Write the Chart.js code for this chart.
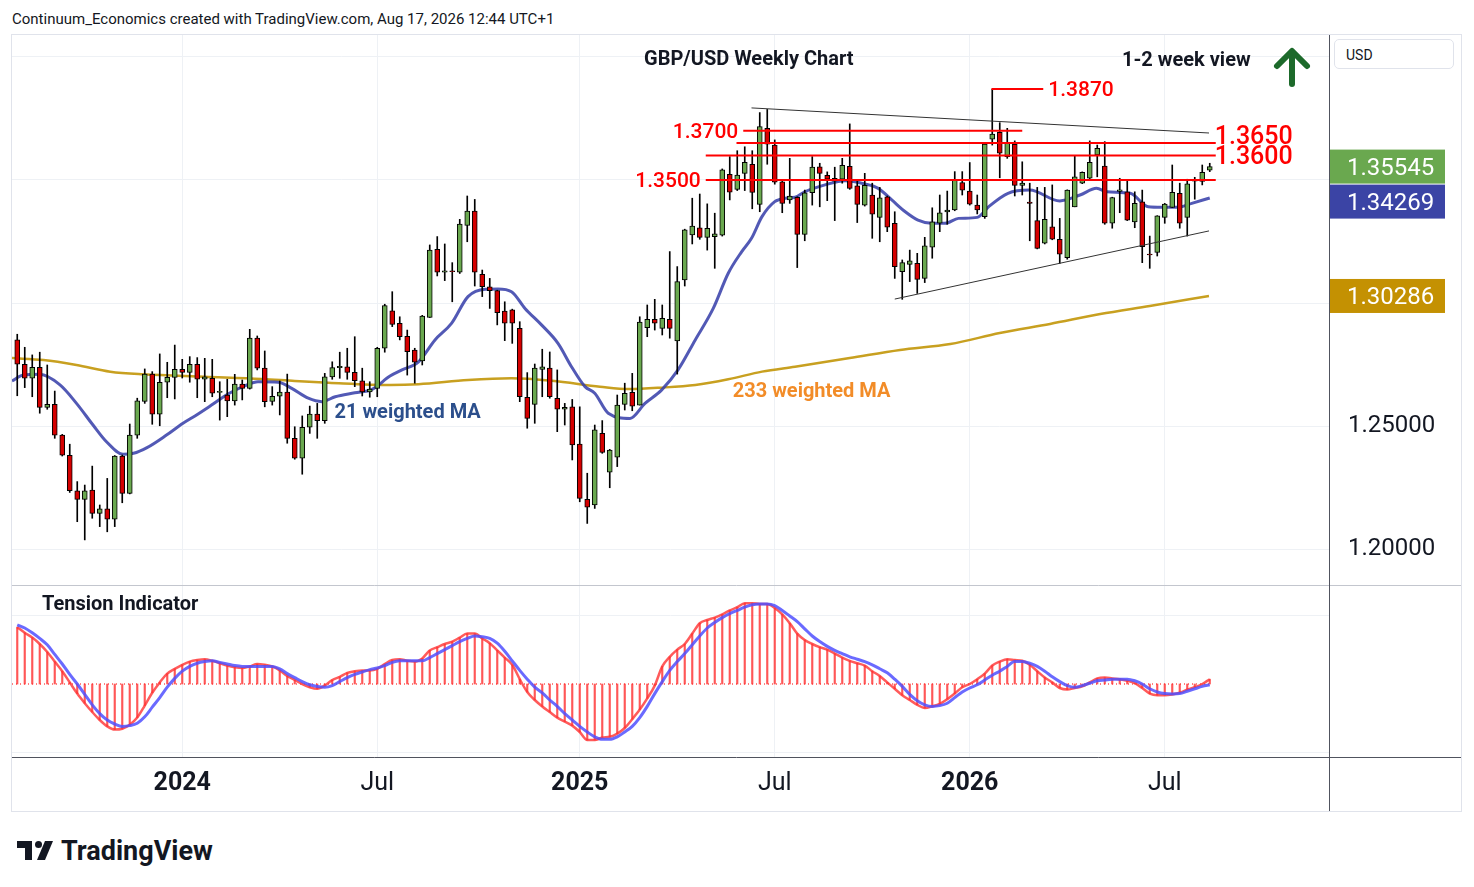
<!DOCTYPE html>
<html lang="en">
<head>
  <meta charset="UTF-8">
  <title>GBP/USD Weekly Chart</title>
  <script src="https://cdn.jsdelivr.net/npm/chart.js@4.4.1/dist/chart.umd.min.js"></script>
  <style>
    body { margin: 0; background: #fff; font-family: Roboto, "Noto Sans", sans-serif; color: #131722; }
    #page { position: relative; width: 1474px; height: 887px; overflow: hidden; }
    #frame { position: absolute; left: 11px; top: 34px; width: 1449px; height: 776px; border: 1px solid #e0e3eb; }
    .t { position: absolute; white-space: nowrap; line-height: 1; transform: translateY(-50%); }
    .hdr { font-size: 15px; color: #131722; }
    .ttl { font-size: 20px; font-weight: bold; color: #131722; }
    #usd { position: absolute; left: 1334px; top: 39px; width: 120px; height: 30px; border: 1px solid #e0e3eb;
           border-radius: 5px; background: #fff; font-size: 14px; line-height: 30px; padding-left: 11px; box-sizing: border-box; }
    #logo { position: absolute; left: 16px; top: 836px; }
  </style>
</head>
<body>
<div id="page">
  <div class="t hdr" style="left:12px; top:19px;">Continuum_Economics created with TradingView.com, Aug 17, 2026 12:44 UTC+1</div>
  <div id="frame"><canvas id="chart" width="1449" height="776"></canvas></div>
  <div class="t ttl" style="left:644px; top:58px;">GBP/USD Weekly Chart</div>
  <div class="t ttl" style="left:1122px; top:59px;">1-2 week view</div>
  <div class="t ttl" style="left:42px; top:603px;">Tension Indicator</div>
  <div id="usd">USD</div>
  <svg style="position:absolute; left:1270px; top:44px;" width="46" height="44">
    <polyline points="22,40 22,8" fill="none" stroke="#1d6a2b" stroke-width="6" stroke-linecap="round"/>
    <polyline points="7,22 22,7 37,22" fill="none" stroke="#1d6a2b" stroke-width="6" stroke-linecap="round" stroke-linejoin="round"/>
  </svg>
  <div id="logo">
    <svg width="210" height="30">
      <rect x="1" y="5" width="15" height="7" fill="#131722"/>
      <rect x="9" y="5" width="7" height="19" fill="#131722"/>
      <circle cx="22.5" cy="8.5" r="3.5" fill="#131722"/>
      <polygon points="29,5 37,5 29,24 21,24" fill="#131722"/>
      <text x="45" y="24" font-family="Roboto, sans-serif" font-weight="bold" font-size="27" fill="#131722">TradingView</text>
    </svg>
  </div>
</div>

<script>
  // weekly candles, first bar = week of 31 Jul 2023 (index 0), last = week of 17 Aug 2026
  const opens = [
    1.2850,1.2751,1.2694,1.2739,1.2576,1.2588,1.2463,1.2381,1.2237,1.2202,
    1.2240,1.2145,1.2163,1.2121,1.2378,1.2226,1.2463,1.2600,1.2711,1.2548,
    1.2678,1.2698,1.2730,1.2718,1.2751,1.2690,1.2694,1.2637,1.2626,1.2602,
    1.2670,1.2653,1.2857,1.2735,1.2600,1.2621,1.2638,1.2450,1.2369,1.2495,
    1.2548,1.2522,1.2700,1.2737,1.2741,1.2718,1.2684,1.2639,1.2653,1.2816,
    1.2968,1.2917,1.2865,1.2809,1.2765,1.2941,1.3218,1.3125,1.3131,1.3125,
    1.3315,1.3374,1.3117,1.3066,1.3050,1.2967,1.2972,1.2897,1.2617,1.2588,
    1.2730,1.2735,1.2613,1.2568,1.2578,1.2427,1.2202,1.2179,1.2470,1.2312,
    1.2373,1.2588,1.2637,1.2585,1.2900,1.2934,1.2897,1.2934,1.2846,1.3094,
    1.3277,1.3306,1.3267,1.3270,1.3276,1.3523,1.3462,1.3527,1.3564,1.3401,
    1.3710,1.3642,1.3493,1.3419,1.3430,1.3279,1.3448,1.3554,1.3519,1.3495,
    1.3503,1.3556,1.3476,1.3398,1.3439,1.3348,1.3432,1.3324,1.3127,1.3157,
    1.3161,1.3100,1.3227,1.3324,1.3370,1.3378,1.3489,1.3455,1.3398,1.3351,
    1.3666,1.3694,1.3595,1.3645,1.3478,1.3410,1.3335,1.3243,1.3310,1.3259,
    1.3184,1.3391,1.3487,1.3507,1.3602,1.3557,1.3324,1.3454,1.3452,1.3330,
    1.3411,1.3199,1.3206,1.3348,1.3389,1.3446,1.3348,1.3495,1.3494,1.3540
  ];
  const highs = [
    1.2873,1.2820,1.2789,1.2800,1.2748,1.2642,1.2466,1.2426,1.2274,1.2260,
    1.2337,1.2179,1.2287,1.2380,1.2382,1.2508,1.2613,1.2732,1.2721,1.2793,
    1.2759,1.2829,1.2771,1.2782,1.2778,1.2775,1.2771,1.2680,1.2690,1.2710,
    1.2687,1.2893,1.2866,1.2805,1.2660,1.2683,1.2711,1.2497,1.2541,1.2581,
    1.2592,1.2714,1.2761,1.2800,1.2816,1.2863,1.2735,1.2680,1.2820,1.2995,
    1.3046,1.2944,1.2890,1.2816,1.2950,1.3236,1.3270,1.3240,1.3164,1.3340,
    1.3435,1.3421,1.3134,1.3100,1.3052,1.3005,1.2975,1.2924,1.2717,1.2752,
    1.2812,1.2801,1.2728,1.2592,1.2608,1.2578,1.2308,1.2504,1.2522,1.2405,
    1.2626,1.2674,1.2714,1.2944,1.2992,1.3015,1.2992,1.3209,1.3148,1.3300,
    1.3426,1.3443,1.3403,1.3365,1.3545,1.3595,1.3619,1.3635,1.3619,1.3774,
    1.3787,1.3663,1.3500,1.3588,1.3432,1.3459,1.3595,1.3568,1.3533,1.3552,
    1.3588,1.3728,1.3500,1.3527,1.3487,1.3470,1.3435,1.3371,1.3175,1.3215,
    1.3202,1.3267,1.3387,1.3439,1.3455,1.3534,1.3534,1.3571,1.3439,1.3650,
    1.3869,1.3733,1.3710,1.3659,1.3574,1.3487,1.3470,1.3470,1.3480,1.3344,
    1.3460,1.3598,1.3533,1.3659,1.3642,1.3656,1.3430,1.3507,1.3500,1.3452,
    1.3459,1.3272,1.3355,1.3405,1.3561,1.3487,1.3503,1.3511,1.3561,1.3568
  ];
  const lows = [
    1.2623,1.2656,1.2619,1.2552,1.2568,1.2450,1.2378,1.2230,1.2111,1.2037,
    1.2125,1.2091,1.2070,1.2091,1.2188,1.2224,1.2450,1.2592,1.2507,1.2501,
    1.2615,1.2610,1.2695,1.2678,1.2615,1.2599,1.2619,1.2524,1.2538,1.2585,
    1.2606,1.2650,1.2728,1.2578,1.2585,1.2545,1.2430,1.2365,1.2304,1.2470,
    1.2450,1.2511,1.2690,1.2694,1.2690,1.2660,1.2622,1.2617,1.2619,1.2800,
    1.2904,1.2850,1.2707,1.2674,1.2748,1.2941,1.3110,1.3091,1.3005,1.3120,
    1.3249,1.3069,1.3026,1.2978,1.2911,1.2847,1.2836,1.2599,1.2491,1.2511,
    1.2619,1.2613,1.2477,1.2504,1.2362,1.2192,1.2104,1.2165,1.2389,1.2249,
    1.2335,1.2565,1.2562,1.2585,1.2863,1.2890,1.2870,1.2857,1.2711,1.3069,
    1.3240,1.3259,1.3215,1.3141,1.3272,1.3419,1.3457,1.3457,1.3383,1.3371,
    1.3564,1.3483,1.3367,1.3405,1.3144,1.3253,1.3398,1.3391,1.3416,1.3335,
    1.3487,1.3462,1.3327,1.3394,1.3263,1.3249,1.3290,1.3100,1.3015,1.3087,
    1.3039,1.3083,1.3182,1.3290,1.3320,1.3375,1.3439,1.3398,1.3362,1.3344,
    1.3642,1.3509,1.3588,1.3435,1.3439,1.3253,1.3220,1.3240,1.3257,1.3161,
    1.3178,1.3391,1.3485,1.3505,1.3513,1.3320,1.3304,1.3367,1.3335,1.3306,
    1.3164,1.3141,1.3191,1.3324,1.3388,1.3304,1.3272,1.3422,1.3480,1.3534
  ];
  const closes = [
    1.2751,1.2694,1.2739,1.2576,1.2588,1.2463,1.2381,1.2237,1.2202,1.2237,
    1.2145,1.2163,1.2121,1.2378,1.2226,1.2463,1.2602,1.2711,1.2548,1.2678,
    1.2698,1.2730,1.2718,1.2751,1.2690,1.2700,1.2633,1.2640,1.2602,1.2670,
    1.2653,1.2857,1.2735,1.2599,1.2621,1.2638,1.2450,1.2369,1.2495,1.2548,
    1.2522,1.2700,1.2737,1.2743,1.2718,1.2684,1.2639,1.2650,1.2816,1.2990,
    1.2913,1.2863,1.2802,1.2759,1.2947,1.3215,1.3125,1.3131,1.3127,1.3321,
    1.3374,1.3125,1.3066,1.3050,1.2961,1.2918,1.2918,1.2619,1.2531,1.2735,
    1.2741,1.2619,1.2568,1.2576,1.2423,1.2206,1.2170,1.2484,1.2393,1.2402,
    1.2585,1.2633,1.2581,1.2922,1.2934,1.2918,1.2938,1.2897,1.3087,1.3297,
    1.3313,1.3267,1.3304,1.3281,1.3541,1.3451,1.3520,1.3572,1.3450,1.3717,
    1.3646,1.3491,1.3405,1.3435,1.3279,1.3448,1.3552,1.3527,1.3503,1.3507,
    1.3560,1.3466,1.3401,1.3478,1.3361,1.3428,1.3308,1.3148,1.3164,1.3171,
    1.3096,1.3232,1.3330,1.3367,1.3378,1.3500,1.3459,1.3402,1.3378,1.3646,
    1.3687,1.3609,1.3653,1.3478,1.3487,1.3405,1.3222,1.3340,1.3259,1.3199,
    1.3459,1.3513,1.3531,1.3572,1.3629,1.3324,1.3429,1.3460,1.3337,1.3405,
    1.3229,1.3195,1.3354,1.3402,1.3450,1.3324,1.3484,1.3500,1.3531,1.35545
  ];

  // 21 weighted MA at these week positions
  const wma21Week = [-0.7,0.8,3.0,5.7,7.9,10.1,11.9,14.1,15.5,17.3,19.9,22.1,23.7,25.9,28.1,30.4,32.1,34.8,36.6,38.8,
    40.6,42.4,45.0,47.3,49.7,51.3,53.5,55.7,57.9,60.1,62.4,64.1,65.9,67.7,69.9,72.1,73.9,75.7,77.0,78.8,
    81.7,83.7,85.9,88.1,90.4,92.8,94.8,96.6,97.9,99.3,101.0,102.4,103.7,105.0,107.7,110.4,113.0,114.8,116.6,118.4,
    120.1,121.9,123.7,125.5,128.0,129.5,132.1,135.0,139.0,141.7,143.9,145.3,148.4,150.8,152.6,154.8,156.6,159];
  const wma21 = [1.2683,1.2707,1.2710,1.2667,1.2592,1.2504,1.2436,1.2385,1.2389,1.2412,1.2463,1.2511,1.2541,1.2585,1.2630,1.2664,1.2680,1.2678,1.2653,1.2613,
    1.2599,1.2619,1.2635,1.2649,1.2703,1.2728,1.2761,1.2850,1.2917,1.3026,1.3056,1.3057,1.3046,1.2978,1.2911,1.2836,1.2741,1.2660,1.2633,1.2552,
    1.2531,1.2592,1.2646,1.2728,1.2850,1.2978,1.3121,1.3209,1.3263,1.3351,1.3412,1.3426,1.3430,1.3452,1.3480,1.3497,1.3484,1.3466,1.3419,1.3371,
    1.3337,1.3324,1.3324,1.3344,1.3348,1.3391,1.3446,1.3459,1.3415,1.3439,1.3466,1.3452,1.3446,1.3391,1.3389,1.3389,1.3405,1.34269];

  // 233 weighted MA
  const wma233Week = [-0.7,3.5,7.9,12.4,16.8,25.0,32.6,37.0,41.5,49.7,53.5,60.1,65.9,71.3,77.7,81.5,85.9,90.4,94.8,99.3,
    103.7,111.0,117.7,124.4,131.0,137.7,144.4,151.0,158.9];
  const wma233 = [1.2776,1.2768,1.2748,1.2721,1.2710,1.2700,1.2691,1.2683,1.2676,1.2667,1.2670,1.2687,1.2694,1.2684,1.2660,1.2650,1.2656,1.2667,1.2690,1.2721,
    1.2741,1.2776,1.2809,1.2833,1.2878,1.2915,1.2955,1.2988,1.30286];

  // tension indicator (red histogram/line and blue signal), one value per week
  const tensionRed = [
    0.71,0.64,0.58,0.50,0.40,0.28,0.16,0.02,-0.12,-0.24,
    -0.35,-0.45,-0.53,-0.57,-0.56,-0.51,-0.42,-0.27,-0.11,0.02,
    0.13,0.19,0.24,0.28,0.30,0.31,0.29,0.26,0.23,0.21,
    0.20,0.22,0.25,0.24,0.22,0.17,0.10,0.05,0.00,-0.04,
    -0.06,-0.02,0.05,0.09,0.14,0.16,0.17,0.17,0.19,0.25,
    0.30,0.31,0.29,0.28,0.32,0.42,0.46,0.50,0.53,0.58,
    0.63,0.63,0.57,0.51,0.42,0.33,0.24,0.06,-0.10,-0.20,
    -0.28,-0.35,-0.42,-0.47,-0.52,-0.60,-0.70,-0.70,-0.67,-0.66,
    -0.62,-0.55,-0.44,-0.32,-0.18,-0.02,0.22,0.34,0.43,0.50,
    0.63,0.76,0.80,0.83,0.87,0.92,0.96,1.01,1.01,1.00,
    1.00,0.95,0.87,0.76,0.63,0.55,0.50,0.46,0.43,0.38,
    0.33,0.29,0.26,0.23,0.16,0.10,0.02,-0.06,-0.14,-0.20,
    -0.26,-0.30,-0.28,-0.25,-0.19,-0.12,-0.04,0.00,0.06,0.13,
    0.23,0.28,0.31,0.30,0.29,0.24,0.16,0.08,0.02,-0.05,
    -0.07,-0.05,-0.03,0.02,0.07,0.08,0.07,0.06,0.04,0.01,
    -0.05,-0.12,-0.14,-0.14,-0.13,-0.11,-0.07,-0.04,0.00,0.06
  ];
  const tensionBlue = [
    0.74,0.70,0.64,0.57,0.49,0.37,0.25,0.12,0.00,-0.13,
    -0.26,-0.37,-0.45,-0.50,-0.53,-0.52,-0.49,-0.41,-0.29,-0.17,
    -0.04,0.07,0.16,0.22,0.26,0.28,0.29,0.27,0.25,0.23,
    0.22,0.22,0.22,0.22,0.22,0.19,0.13,0.08,0.03,-0.01,
    -0.03,-0.04,-0.02,0.03,0.08,0.12,0.15,0.18,0.20,0.23,
    0.27,0.29,0.29,0.29,0.29,0.33,0.38,0.43,0.48,0.53,
    0.57,0.60,0.59,0.57,0.51,0.41,0.29,0.17,0.06,-0.04,
    -0.11,-0.20,-0.28,-0.37,-0.45,-0.53,-0.60,-0.66,-0.69,-0.69,
    -0.66,-0.60,-0.53,-0.42,-0.28,-0.12,0.03,0.17,0.28,0.38,
    0.49,0.60,0.70,0.77,0.83,0.88,0.92,0.96,0.99,1.00,
    1.00,0.98,0.92,0.85,0.78,0.69,0.60,0.53,0.47,0.42,
    0.38,0.34,0.31,0.28,0.24,0.19,0.14,0.06,-0.03,-0.13,
    -0.21,-0.26,-0.28,-0.27,-0.24,-0.17,-0.10,-0.05,-0.01,0.05,
    0.11,0.16,0.22,0.28,0.28,0.26,0.22,0.16,0.09,0.03,
    -0.02,-0.04,-0.02,0.01,0.04,0.05,0.06,0.06,0.06,0.04,
    0.00,-0.06,-0.10,-0.12,-0.125,-0.12,-0.09,-0.06,-0.03,-0.01
  ];

  // key levels (price, first week, last week)
  const levelPrices = [1.3870, 1.3700, 1.3650, 1.3600, 1.3500];
  const levelFrom   = [129.9, 96.8, 95.9, 91.8, 91.8];
  const levelTo     = [136.8, 134.0, 159.8, 159.8, 159.8];

  // trend channel
  const upperTrendWeek = [97.9, 158.9];
  const upperTrend     = [1.3793, 1.3691];
  const lowerTrendWeek = [117.0, 158.9];
  const lowerTrend     = [1.3016, 1.3293];

  // time axis
  const tickWeeks  = [22, 48, 75, 101, 127, 153];
  const tickLabels = ['2024', 'Jul', '2025', 'Jul', '2026', 'Jul'];
  const priceGrid  = [1.20, 1.25, 1.30, 1.35, 1.40];

  const lastPrice = 1.35545, lastWma21 = 1.34269, lastWma233 = 1.30286;

  const upColor = '#6aa84f', downColor = '#d50000';

  function pts(xs, ys) { return xs.map((x, i) => ({ x: x, y: ys[i] })); }

  const datasets = [];
  // candle bodies and wicks
  datasets.push({
    type: 'bar', data: opens.map((o, i) => ({ x: i, y: [o, closes[i]] })),
    backgroundColor: opens.map((o, i) => closes[i] >= o ? upColor : downColor),
    borderColor: '#000', borderWidth: 1, borderSkipped: false,
    barThickness: 5, minBarLength: 1, grouped: false, yAxisID: 'y', order: 2
  });
  datasets.push({
    type: 'bar', data: lows.map((l, i) => ({ x: i, y: [l, highs[i]] })),
    backgroundColor: '#000', barThickness: 1, grouped: false, yAxisID: 'y', order: 3
  });
  // moving averages
  datasets.push({
    type: 'line', data: pts(wma21Week, wma21), borderColor: 'rgba(52,60,168,0.85)', borderWidth: 3,
    pointRadius: 0, cubicInterpolationMode: 'monotone', yAxisID: 'y', order: 4
  });
  datasets.push({
    type: 'line', data: pts(wma233Week, wma233), borderColor: '#c8a020', borderWidth: 2.5,
    pointRadius: 0, cubicInterpolationMode: 'monotone', yAxisID: 'y', order: 4
  });
  // levels and trend lines
  levelPrices.forEach((p, k) => {
    datasets.push({
      type: 'line', data: [{ x: levelFrom[k], y: p }, { x: levelTo[k], y: p }],
      borderColor: '#ff0000', borderWidth: 2, pointRadius: 0, yAxisID: 'y', order: 1
    });
  });
  datasets.push({ type: 'line', data: pts(upperTrendWeek, upperTrend), borderColor: '#333', borderWidth: 1, pointRadius: 0, yAxisID: 'y', order: 1 });
  datasets.push({ type: 'line', data: pts(lowerTrendWeek, lowerTrend), borderColor: '#333', borderWidth: 1, pointRadius: 0, yAxisID: 'y', order: 1 });

  // tension indicator
  datasets.push({
    type: 'line', data: [{ x: -0.7, y: 0 }, { x: 159, y: 0 }], borderColor: '#ff0000', borderWidth: 1,
    borderDash: [1, 3], pointRadius: 0, yAxisID: 'y2', order: 9
  });
  datasets.push({
    type: 'bar', data: tensionRed.map((v, i) => ({ x: i, y: v })), backgroundColor: 'rgba(255,45,45,0.8)',
    barThickness: 1.5, grouped: false, yAxisID: 'y2', order: 8
  });
  datasets.push({
    type: 'line', data: tensionRed.map((v, i) => ({ x: i, y: v })), borderColor: 'rgba(255,50,50,0.8)', borderWidth: 2.5,
    pointRadius: 0, cubicInterpolationMode: 'monotone', yAxisID: 'y2', order: 7
  });
  datasets.push({
    type: 'line', data: tensionBlue.map((v, i) => ({ x: i, y: v })), borderColor: 'rgba(80,80,255,0.85)', borderWidth: 3,
    pointRadius: 0, cubicInterpolationMode: 'monotone', yAxisID: 'y2', order: 6
  });

  // text labels, pane separators and price tags
  const decor = {
    id: 'decor',
    afterDatasetsDraw(chart) {
      const { ctx, scales: { x, y } } = chart;
      ctx.save();
      ctx.textBaseline = 'middle';
      ctx.fillStyle = '#ff0000';
      const side = ['right', 'left', 'right', 'right', 'left'];
      const size = [21, 21, 25, 25, 21];
      const dy = [1.5, 2, -5, 2.5, 2];
      levelPrices.forEach((p, k) => {
        ctx.font = '500 ' + size[k] + 'px Roboto';
        const py = y.getPixelForValue(p) + dy[k];
        if (side[k] === 'right') {
          ctx.textAlign = 'left';
          ctx.fillText(p.toFixed(4), x.getPixelForValue(levelTo[k]) + (size[k] > 21 ? -1 : 5), py);
        } else {
          ctx.textAlign = 'right';
          ctx.fillText(p.toFixed(4), x.getPixelForValue(levelFrom[k]) - 5, py);
        }
      });
      ctx.textAlign = 'left';
      ctx.font = 'bold 20px Roboto';
      ctx.fillStyle = '#2c4f8c';
      ctx.fillText('21 weighted MA', x.getPixelForValue(42.3), y.getPixelForValue(1.2565) + 3);
      ctx.fillStyle = '#f28c28';
      ctx.fillText('233 weighted MA', x.getPixelForValue(95.4), y.getPixelForValue(1.2650) + 3);
      ctx.restore();
    },
    afterDraw(chart) {
      const { ctx, chartArea, scales: { y } } = chart;
      const W = chart.width, H = chart.height;
      ctx.save();
      ctx.lineWidth = 1;
      ctx.strokeStyle = '#c3c6ce';
      ctx.beginPath(); ctx.moveTo(0, Math.round(y.bottom) + 0.5); ctx.lineTo(W, Math.round(y.bottom) + 0.5); ctx.stroke();
      ctx.strokeStyle = '#50535e';
      ctx.beginPath(); ctx.moveTo(0, Math.round(chartArea.bottom) + 0.5); ctx.lineTo(W, Math.round(chartArea.bottom) + 0.5); ctx.stroke();
      ctx.beginPath(); ctx.moveTo(Math.round(chartArea.right) + 0.5, 0); ctx.lineTo(Math.round(chartArea.right) + 0.5, H); ctx.stroke();

      const left = chartArea.right + 1, w = 115, h = 34;
      function tag(yc, color, text) {
        ctx.fillStyle = color;
        ctx.fillRect(left, yc - h / 2, w, h);
        ctx.fillStyle = '#fff';
        ctx.font = '24px Roboto';
        ctx.textAlign = 'left';
        ctx.textBaseline = 'middle';
        ctx.fillText(text, left + 17, yc + 2.5);
      }
      const g = y.getPixelForValue(lastPrice);
      tag(g, upColor, lastPrice.toFixed(5));
      tag(Math.max(y.getPixelForValue(lastWma21), g + h + 1), '#3b44a5', lastWma21.toFixed(5));
      tag(y.getPixelForValue(lastWma233), '#c49102', lastWma233.toFixed(5));
      ctx.restore();
    }
  };

  const noPad = s => { s.paddingTop = 0; s.paddingBottom = 0; s.width = 132; };

  new Chart(document.getElementById('chart'), {
    type: 'bar',
    data: { datasets: datasets },
    options: {
      responsive: false,
      animation: false,
      events: [],
      layout: { padding: 0, autoPadding: false },
      plugins: { legend: { display: false }, tooltip: { enabled: false } },
      scales: {
        x: {
          type: 'linear', min: -0.7, max: 174.9, offset: false,
          grid: { color: '#eef1f5', drawTicks: false, offset: false },
          border: { display: false },
          ticks: {
            padding: 12, color: '#131722', maxRotation: 0,
            font: c => ({ family: 'Roboto', size: 25, weight: [22, 75, 127].includes(c.tick && c.tick.value) ? 'bold' : 'normal' }),
            callback: v => { const k = tickWeeks.indexOf(v); return k >= 0 ? tickLabels[k] : ''; }
          },
          afterBuildTicks: s => { s.ticks = tickWeeks.map(v => ({ value: v })); },
          afterFit: s => { s.height = 54; s.paddingLeft = 0; s.paddingRight = 0; }
        },
        y: {
          type: 'linear', position: 'right', stack: 'panes', stackWeight: 550,
          min: 1.18537, max: 1.40894,
          grid: { color: '#eef1f5', drawTicks: false },
          border: { display: false },
          ticks: {
            padding: 19, color: '#131722', font: { family: 'Roboto', size: 24 },
            callback: v => (v < 1.26 ? v.toFixed(5) : '')
          },
          afterBuildTicks: s => { s.ticks = priceGrid.map(v => ({ value: v })); },
          afterFit: noPad
        },
        y2: {
          type: 'linear', position: 'right', stack: 'panes', stackWeight: 172,
          min: -0.9125, max: 1.2375,
          grid: { color: '#eef1f5', drawTicks: false },
          border: { display: false },
          ticks: { display: false },
          afterBuildTicks: s => { s.ticks = [-0.85, 0.8625].map(v => ({ value: v })); },
          afterFit: noPad
        }
      }
    },
    plugins: [decor]
  });
</script>
</body>
</html>
